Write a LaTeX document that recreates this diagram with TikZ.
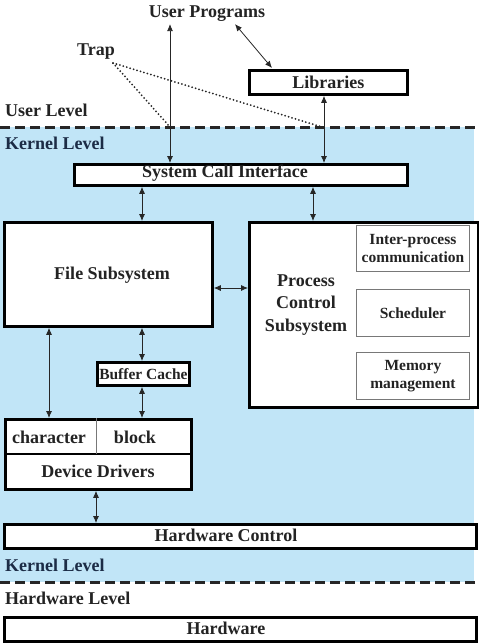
\documentclass[tikz,border=0pt]{standalone}
\usepackage{fontspec}
\setmainfont{Liberation Serif}
\usetikzlibrary{arrows.meta}
\definecolor{kblue}{RGB}{193,229,247}
\definecolor{ink}{RGB}{35,35,35}
\definecolor{navy}{RGB}{28,44,70}
\definecolor{thin}{RGB}{120,120,120}
\tikzset{
  txt/.style={font=\fontsize{18}{22.5}\selectfont\bfseries, text=ink, inner sep=0pt, align=center},
  smalltxt/.style={font=\fontsize{15.5}{18}\selectfont\bfseries, text=ink, inner sep=0pt, align=center},
  bigbox/.style={draw=black, fill=white, line width=2.8pt, inner sep=0pt, anchor=north west},
  subbox/.style={draw=thin, fill=white, line width=0.9pt, inner sep=0pt, anchor=north west},
  arr/.style={{Latex[length=7pt,width=6pt]}-{Latex[length=7pt,width=6pt]}, line width=0.8pt, draw=black!85},
  levelline/.style={line width=3pt, dash pattern=on 10pt off 5pt, draw=black!85},
  trapline/.style={line width=2pt, line cap=round, dash pattern=on 0pt off 3.6pt, draw=black!85},
}
\begin{document}
\begin{tikzpicture}[x=1pt,y=-1pt]
\useasboundingbox (0,0) rectangle (479,643);
% blue kernel region
\fill[kblue] (0,127) rectangle (474,582);
% level lines
\coordinate (ul0) at (0,127); \coordinate (ul1) at (479,127);
\coordinate (hl0) at (0,582); \coordinate (hl1) at (479,582);
\draw[levelline] (ul0) -- (ul1);
\draw[levelline] (hl0) -- (hl1);
% level labels
\node[txt, anchor=west] (userlevel) at (5,110) {User Level};
\node[txt, anchor=west, text=navy] (kerneltop) at (5,143) {Kernel Level};
\node[txt, anchor=west, text=navy] (kernelbot) at (5,565) {Kernel Level};
\node[txt, anchor=west] (hwlevel) at (5,598) {Hardware Level};
% top
\node[txt] (up) at (207,14) {User Programs};
\node[txt] (trap) at (96,52) {Trap};
\node[bigbox, minimum width=158pt, minimum height=24pt] (lib) at (248,69) {};
\node[txt] (libt) at (lib.center) {Libraries};
% system call interface
\node[bigbox, minimum width=333pt, minimum height=21pt] (sci) at (73,163) {};
\node[txt] (scit) at (225,173) {System Call Interface};
% file subsystem
\node[bigbox, minimum width=208pt, minimum height=104pt] (fs) at (3,221) {};
\node[txt] (fst) at (112,275) {File Subsystem};
% process control subsystem
\node[bigbox, minimum width=229pt, minimum height=185pt] (pcs) at (248,221) {};
\node[txt] (pcst) at (306,305) {Process\\Control\\Subsystem};
\node[subbox, minimum width=113pt, minimum height=46pt] (ipc) at (356,225) {};
\node[smalltxt] (ipct) at (ipc.center) {Inter-process\\communication};
\node[subbox, minimum width=113pt, minimum height=47pt] (sch) at (356,289) {};
\node[smalltxt] (scht) at (sch.center) {Scheduler};
\node[subbox, minimum width=113pt, minimum height=47pt] (mem) at (356,352) {};
\node[smalltxt] (memt) at (mem.center) {Memory\\management};
% buffer cache
\node[bigbox, minimum width=92pt, minimum height=23pt] (bc) at (96,361) {};
\node[smalltxt] (bct) at (bc.center) {Buffer Cache};
% device drivers
\node[bigbox, minimum width=186pt, minimum height=70pt] (dd) at (4,418) {};
\draw[line width=2.4pt] (dd.west |- 0,454) coordinate (ddm0) -- (dd.east |- ddm0);
\draw[line width=0.8pt, draw=thin] (dd.north -| 96,0) coordinate (ddv0) -- (ddv0 |- ddm0);
\node[txt] (chart) at (49,437) {character};
\node[txt] (blockt) at (135,437) {block};
\node[txt] (ddt) at (98,471) {Device Drivers};
% hardware control
\node[bigbox, minimum width=472pt, minimum height=24pt] (hc) at (3,523) {};
\node[txt] (hct) at (226,535) {Hardware Control};
% hardware
\node[bigbox, minimum width=472pt, minimum height=24pt] (hw) at (3,616) {};
\node[txt] (hwt) at (226,628) {Hardware};
% arrows
\coordinate (xa) at (170,0);
\coordinate (xb) at (324,0);
\coordinate (xc) at (142,0);
\coordinate (xd) at (313,0);
\coordinate (xe) at (49,0);
\coordinate (xf) at (96,0);
\coordinate (yf) at (0,288);
\draw[arr] (xa |- up.south) ++(0,2) -- (xa |- sci.north);
\draw[arr] ([xshift=28pt,yshift=-2pt]up.south) -- ([xshift=24pt,yshift=1pt]lib.north west);
\draw[arr] (xb |- lib.south) -- (xb |- sci.north);
\draw[arr] (xc |- sci.south) -- (xc |- fs.north);
\draw[arr] (xd |- sci.south) -- (xd |- pcs.north);
\draw[arr] (fs.east |- yf) -- (pcs.west |- yf);
\draw[arr] (xe |- fs.south) -- (xe |- dd.north);
\draw[arr] (xc |- fs.south) -- (xc |- bc.north);
\draw[arr] (xc |- bc.south) -- (xc |- dd.north);
\draw[arr] (xf |- dd.south) -- (xf |- hc.north);
% trap lines
\coordinate (trapfrom) at (113,63);
\draw[trapline] (trapfrom) -- (xa |- ul0);
\draw[trapline] (trapfrom) -- (322,127);
\end{tikzpicture}
\end{document}
